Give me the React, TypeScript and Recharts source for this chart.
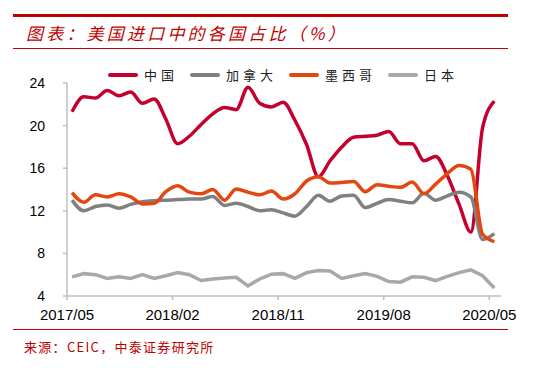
import { LineChart, Line, XAxis, YAxis } from "recharts";

const months = [
  "2017/05", "2017/06", "2017/07", "2017/08", "2017/09", "2017/10", "2017/11", "2017/12",
  "2018/01", "2018/02", "2018/03", "2018/04", "2018/05", "2018/06", "2018/07", "2018/08",
  "2018/09", "2018/10", "2018/11", "2018/12", "2019/01", "2019/02", "2019/03", "2019/04",
  "2019/05", "2019/06", "2019/07", "2019/08", "2019/09", "2019/10", "2019/11", "2019/12",
  "2020/01", "2020/02", "2020/03", "2020/04", "2020/05",
];

const xTickLabels = ["2017/05", "2018/02", "2018/11", "2019/08", "2020/05"];
const yTicks = [4, 8, 12, 16, 20, 24];

const china = [
  21.3, 22.7, 22.6, 23.3, 22.8, 23.15, 22.1, 22.5, 20.6, 18.3, 19.0, 20.1, 21.1, 21.7, 21.5,
  23.6, 22.1, 21.75, 22.2, 20.5, 18.2, 15.2, 16.7, 18.0, 18.9, 19.0, 19.1, 19.45, 18.3, 18.3,
  16.7, 17.1, 15.3, 12.6, 10.0, 19.8, 22.3,
];
const canada = [
  13.0, 12.0, 12.4, 12.55, 12.25, 12.6, 12.85, 12.95, 13.0, 13.05, 13.1, 13.1, 13.35, 12.5,
  12.7, 12.4, 12.0, 12.1, 11.8, 11.5, 12.4, 13.45, 12.9, 13.4, 13.45, 12.3, 12.7, 13.05, 12.9,
  12.75, 13.65, 13.0, 13.4, 13.75, 13.3, 9.3, 9.85,
];
const mexico = [
  13.7, 12.8, 13.5, 13.3, 13.6, 13.3, 12.65, 12.7, 13.8, 14.35, 13.75, 13.6, 14.0, 13.0, 14.05,
  13.75, 13.5, 13.85, 13.1, 13.6, 14.8, 15.2, 14.6, 14.65, 14.75, 13.8, 14.45, 14.3, 14.2, 14.7,
  13.6, 14.5, 15.5, 16.25, 15.9, 9.8, 9.1,
];
const japan = [
  5.8, 6.1, 6.0, 5.65, 5.8, 5.65, 6.0, 5.65, 5.9, 6.2, 6.0, 5.45, 5.6, 5.7, 5.75, 4.95, 5.6,
  6.05, 6.1, 5.65, 6.2, 6.4, 6.35, 5.65, 5.9, 6.1, 5.85, 5.35, 5.3, 5.8, 5.75, 5.45, 5.85, 6.2,
  6.45, 5.9, 4.75,
];

// monthly figures sit mid-month on the date axis
const midMonth = 0.43;

const data = months.map((m, i) => ({
  month: m,
  t: i + midMonth,
  china: china[i],
  canada: canada[i],
  mexico: mexico[i],
  japan: japan[i],
}));

const series = [
  { key: "china", name: "中国", color: "#C4002F", type: "monotone" },
  { key: "canada", name: "加拿大", color: "#808080", type: "monotone" },
  { key: "mexico", name: "墨西哥", color: "#E3470E", type: "monotone" },
  { key: "japan", name: "日本", color: "#A8A8A8", type: "linear" },
];

const red = "#C00000";
const axisGray = "#BFBFBF";
const tickFont = { fontSize: 15, fill: "#000", fontFamily: "Liberation Sans, Arial, sans-serif" };

function ChartLegend() {
  return (
    <div style={{ position: "absolute", left: 108, top: 67, display: "flex", gap: 12, alignItems: "center" }}>
      {series.map((s) => (
        <div key={s.key} style={{ display: "flex", alignItems: "center" }}>
          <div style={{ width: 30, height: 4, borderRadius: 2, background: s.color, marginRight: 6 }} />
          <span
            style={{
              fontSize: 13,
              letterSpacing: 4,
              color: "#222",
              fontFamily: "Noto Sans CJK SC, sans-serif",
              lineHeight: "16px",
            }}
          >
            {s.name}
          </span>
        </div>
      ))}
    </div>
  );
}

export default function App() {
  return (
    <div style={{ position: "absolute", left: 0, top: 0, width: 541, height: 368, background: "#fff" }}>
      <div style={{ position: "absolute", left: 13, top: 14, width: 495, height: 3, background: red }} />
      <div
        style={{
          position: "absolute",
          left: 26,
          top: 22,
          fontSize: 17,
          lineHeight: "22px",
          fontStyle: "italic",
          letterSpacing: 3.2,
          color: red,
          fontFamily: "Noto Sans CJK SC, sans-serif",
        }}
      >
        图表：美国进口中的各国占比（%）
      </div>
      <div style={{ position: "absolute", left: 13, top: 48, width: 495, height: 1, background: red }} />

      <div style={{ position: "absolute", left: 0, top: 0 }}>
        <LineChart width={541} height={368} data={data} margin={{ top: 83, right: 40, bottom: 42, left: 0 }}>
          <XAxis
            type="number"
            dataKey="t"
            domain={[0, months.length]}
            ticks={xTickLabels.map((l) => months.indexOf(l))}
            tickFormatter={(v: number) => months[v]}
            axisLine={{ stroke: axisGray, strokeWidth: 1.5 }}
            tickLine={{ stroke: axisGray, strokeWidth: 1.5 }}
            tickSize={4}
            tickMargin={9}
            tick={tickFont}
            height={30}
            allowDataOverflow
          />
          <YAxis
            domain={[4, 24]}
            ticks={yTicks}
            width={67}
            axisLine={{ stroke: axisGray, strokeWidth: 1.5 }}
            tickLine={{ stroke: axisGray, strokeWidth: 1.5 }}
            tickSize={4}
            tickMargin={18}
            tick={{ ...tickFont, fontSize: 14 }}
            interval={0}
          />
          {series.map((s) => (
            <Line
              key={s.key}
              type={s.type as "monotone" | "linear"}
              dataKey={s.key}
              name={s.name}
              stroke={s.color}
              strokeWidth={3.5}
              dot={false}
              isAnimationActive={false}
            />
          ))}
        </LineChart>
      </div>

      <ChartLegend />

      <div style={{ position: "absolute", left: 13, top: 329, width: 495, height: 1, background: red }} />
      <div
        style={{
          position: "absolute",
          left: 24,
          top: 338,
          fontSize: 13,
          lineHeight: "18px",
          letterSpacing: 1.3,
          color: red,
          fontFamily: "Noto Sans CJK SC, sans-serif",
        }}
      >
        来源：CEIC，中泰证券研究所
      </div>
    </div>
  );
}
